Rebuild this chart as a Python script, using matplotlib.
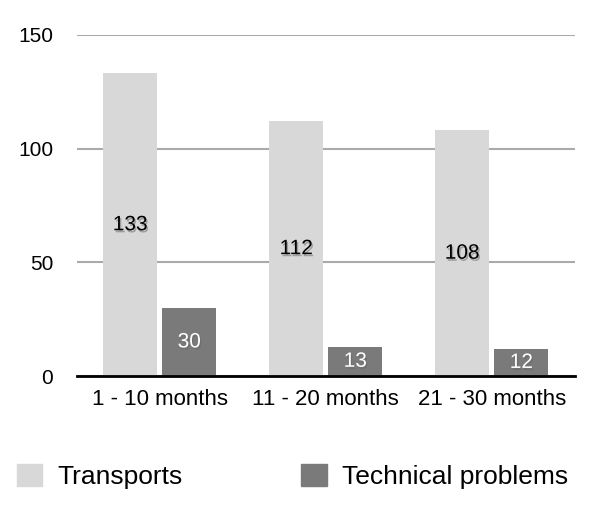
import matplotlib
matplotlib.use("Agg")
import matplotlib.pyplot as plt
import matplotlib.patheffects as pe
from matplotlib.patches import Patch
import numpy as np

plt.rcParams['font.family'] = ['Liberation Sans', 'DejaVu Sans']

categories = ['1 - 10 months', '11 - 20 months', '21 - 30 months']
transports = [133, 112, 108]
technical = [30, 13, 12]
series_names = ['Transports', 'Technical problems']
yticks = [0, 50, 100, 150]

c_trans = '#d8d8d8'
c_tech = '#7a7a7a'

fig = plt.figure(figsize=(6, 5.11), dpi=100)
ax = fig.add_axes([0.128, 0.264, 0.83, 0.668])

x = np.arange(len(categories))
w = 0.325
off = 0.178
b1 = ax.bar(x - off, transports, w, color=c_trans, zorder=2)
b2 = ax.bar(x + off, technical, w, color=c_tech, zorder=2)

# value labels in the middle of each bar
shadow_dark = [pe.SimplePatchShadow(offset=(1, -1.5), shadow_rgbFace='#666666', alpha=0.5), pe.Normal()]
for bars, vals, col in [(b1, transports, 'black'), (b2, technical, 'white')]:
    for r, v in zip(bars, vals):
        ax.text(r.get_x() + r.get_width() / 2, v / 2, str(v), ha='center', va='center',
                fontsize=15, color=col, zorder=3, path_effects=shadow_dark)

ax.set_xlim(-0.5, 2.5)
ax.set_ylim(0, 150)
ax.set_yticks(yticks)
ax.set_xticks(x)
ax.set_xticklabels(categories)
ax.tick_params(axis='both', length=0)
ax.tick_params(axis='y', pad=17, labelsize=15)
ax.tick_params(axis='x', pad=9, labelsize=16)
ax.yaxis.grid(True, color='#aaaaaa', linewidth=1.5, zorder=1)
ax.set_axisbelow(True)
for s in ['top', 'right', 'left']:
    ax.spines[s].set_visible(False)
ax.spines['bottom'].set_color('black')
ax.spines['bottom'].set_linewidth(2)
ax.spines['bottom'].set_zorder(4)

handles = [Patch(color=c_trans), Patch(color=c_tech)]
fig.legend(handles, series_names, loc='center left', bbox_to_anchor=(0.01, 0.068),
           ncol=2, frameon=False, fontsize=19, handlelength=0.95, handleheight=0.9,
           handletextpad=0.6, columnspacing=4.5, borderaxespad=0)

fig.savefig('out.png', dpi=100)
